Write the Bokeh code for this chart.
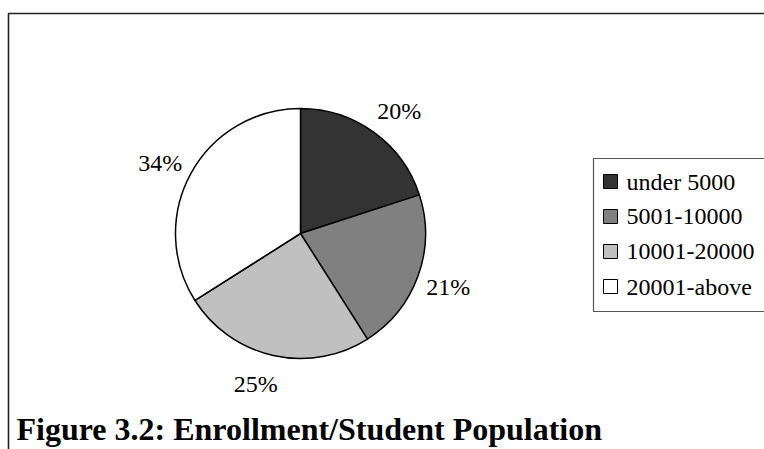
import math

from bokeh.core.properties import value
from bokeh.embed import file_html
from bokeh.models import ColumnDataSource, Range1d
from bokeh.plotting import figure
from bokeh.resources import INLINE

# --- data -------------------------------------------------------------
categories = ["under 5000", "5001-10000", "10001-20000", "20001-above"]
shares = [20, 21, 25, 34]
slice_colors = ["#333333", "#808080", "#c0c0c0", "#ffffff"]
title_text = "Figure 3.2: Enrollment/Student Population"

# --- layout (pixel space, y measured down from the top) ----------------
W, H = 764, 449
CX, CY = 300, 233          # pie centre
R = 125                    # pie radius
R_LABEL = 157              # distance of percentage labels from centre
label_nudge_deg = [3, 0, 4, -2]
FONT = value("'Liberation Serif', 'Times New Roman', 'DejaVu Serif', serif")


def fy(y_down):
    """Convert a top-down pixel offset into the figure's y coordinate."""
    return H - y_down


p = figure(width=W, height=H, x_range=Range1d(0, W), y_range=Range1d(0, H),
           output_backend="svg", toolbar_location=None, min_border=0)
p.axis.visible = False
p.grid.visible = False
p.outline_line_color = None
p.background_fill_color = "white"
p.border_fill_color = "white"

# outer frame (only its top and left edges fall inside the page)
p.quad(left=8, right=W + 30, bottom=-30, top=fy(13),
       fill_color=None, line_color="#222222", line_width=1.6)

# --- pie slices, clockwise from twelve o'clock -------------------------
total = float(sum(shares))
starts, ends, mids = [], [], []
acc = 0.0
for s in shares:
    t0 = 2 * math.pi * acc / total
    acc += s
    t1 = 2 * math.pi * acc / total
    starts.append(math.pi / 2 - t1)
    ends.append(math.pi / 2 - t0)
    mids.append((t0 + t1) / 2)

pie_src = ColumnDataSource(dict(start=starts, end=ends, color=slice_colors,
                                label=categories))
p.wedge(x=CX, y=fy(CY), radius=R, radius_units="screen",
        start_angle="start", end_angle="end", direction="anticlock",
        fill_color="color", line_color="black", line_width=1.5,
        source=pie_src)

# percentage labels outside each slice
lx, ly, ltxt = [], [], []
for m, nudge, s in zip(mids, label_nudge_deg, shares):
    a = m + math.radians(nudge)
    lx.append(CX + R_LABEL * math.sin(a))
    ly.append(fy(CY) + R_LABEL * math.cos(a))
    ltxt.append(f"{s}%")
p.text(x=lx, y=ly, text=ltxt, text_font=FONT, text_font_size="24px",
       text_align="center", text_baseline="middle", text_color="black")

# --- legend ------------------------------------------------------------
LEG_LEFT, LEG_TOP, LEG_BOTTOM = 593, 158, 311
ROW0, ROW_STEP = 181, 35
p.quad(left=LEG_LEFT, right=W + 30, top=fy(LEG_TOP), bottom=fy(LEG_BOTTOM),
       fill_color=None, line_color="#555555", line_width=1.2)
row_y = [fy(ROW0 + i * ROW_STEP) for i in range(len(categories))]
p.scatter(x=[610] * len(categories), y=row_y, marker="square", size=14,
          fill_color=slice_colors, line_color="black", line_width=1)
p.text(x=[626] * len(categories), y=row_y, text=categories, text_font=FONT,
       text_font_size="24px", text_align="left", text_baseline="middle",
       text_color="black")

# --- caption -----------------------------------------------------------
p.text(x=[16], y=[fy(428)], text=[title_text], text_font=FONT,
       text_font_size="32px", text_font_style="bold", text_align="left",
       text_baseline="middle", text_color="black")

open("out.html", "w").write(file_html(p, INLINE))
